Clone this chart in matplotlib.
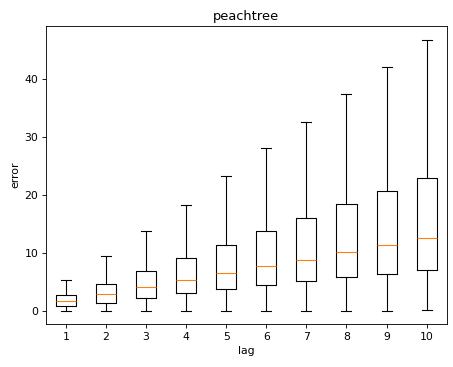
import matplotlib
matplotlib.use("Agg")
import matplotlib.pyplot as plt

# box statistics per lag
lags = [1, 2, 3, 4, 5, 6, 7, 8, 9, 10]
whisker_low = [0.0, 0.0, 0.0, 0.0, 0.0, 0.0, 0.0, 0.0, 0.0, 0.12]
q1 = [0.81, 1.38, 2.19, 3.0, 3.64, 4.33, 5.02, 5.71, 6.23, 7.03]
median = [1.62, 2.77, 4.03, 5.24, 6.51, 7.67, 8.76, 10.03, 11.24, 12.51]
q3 = [2.66, 4.56, 6.8, 8.99, 11.36, 13.78, 15.97, 18.44, 20.63, 22.88]
whisker_high = [5.3, 9.33, 13.78, 18.27, 23.28, 28.07, 32.62, 37.34, 42.07, 46.79]

stats = []
for i, lag in enumerate(lags):
    stats.append({
        "label": str(lag),
        "whislo": whisker_low[i],
        "q1": q1[i],
        "med": median[i],
        "q3": q3[i],
        "whishi": whisker_high[i],
        "fliers": [],
    })

# reference looks like a default-styled figure shrunk to ~78%
DPI = 78
fig = plt.figure(figsize=(453 / DPI, 367 / DPI), dpi=DPI)
ax = fig.add_axes([0.1015, 0.117, 0.8845, 0.812])
ax.bxp(stats, showfliers=False)
ax.set_title("peachtree")
ax.set_xlabel("lag")
ax.set_ylabel("error")

fig.savefig("out.png", dpi=DPI)
